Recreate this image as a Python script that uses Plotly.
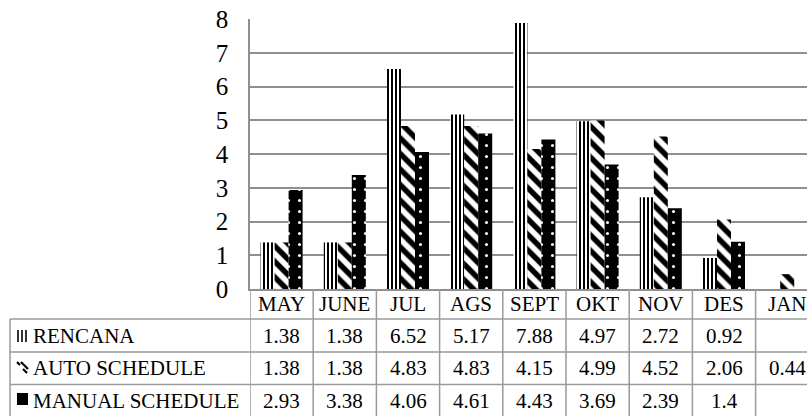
import plotly.graph_objects as go

# ---------------- data ----------------
months = ["MAY", "JUNE", "JUL", "AGS", "SEPT", "OKT", "NOV", "DES", "JAN"]
rencana = [1.38, 1.38, 6.52, 5.17, 7.88, 4.97, 2.72, 0.92, None]
auto_schedule = [1.38, 1.38, 4.83, 4.83, 4.15, 4.99, 4.52, 2.06, 0.44]
manual_schedule = [2.93, 3.38, 4.06, 4.61, 4.43, 3.69, 2.39, 1.4, None]
series_names = ["RENCANA", "AUTO SCHEDULE", "MANUAL SCHEDULE"]
y_ticks = [0, 1, 2, 3, 4, 5, 6, 7, 8]

# ---------------- layout geometry (pixels) ----------------
W, H = 807, 416
ML, MR, MT, MB = 250, 0, 19, 127
PW, PH = W - ML - MR, H - MT - MB
CAT_W = 63.2
FONT = "Liberation Serif, Times New Roman, DejaVu Serif, serif"
GRID = "#8f8f8f"
TLINE = "#9a9a9a"


def yp(py):
    return (H - MB - py) / PH


def xp(px):
    return (px - ML) / PW


fig = go.Figure()

patterns = [
    dict(shape="|", fgcolor="black", bgcolor="white", size=4, solidity=0.5, fillmode="replace"),
    dict(shape="\\", fgcolor="black", bgcolor="white", size=11, solidity=0.5, fillmode="replace"),
    dict(shape=".", fgcolor="white", bgcolor="black", size=11, solidity=0.06, fillmode="replace"),
]
for name, vals, pat in zip(series_names, [rencana, auto_schedule, manual_schedule], patterns):
    fig.add_trace(go.Bar(
        x=months, y=vals, name=name,
        marker=dict(color="black", pattern=pat, line=dict(width=0)),
    ))

shapes = []
# table vertical lines at category boundaries
for i in range(len(months) + 1):
    shapes.append(dict(type="line", xref="x", yref="paper", x0=i - 0.5, x1=i - 0.5,
                       y0=0, y1=yp(420), line=dict(color=TLINE, width=1.5)))
# label column left border
shapes.append(dict(type="line", xref="paper", yref="paper", x0=xp(10), x1=xp(10),
                   y0=yp(319), y1=yp(420), line=dict(color=TLINE, width=1.5)))
# horizontal row lines
for py in [319, 352, 384.5]:
    shapes.append(dict(type="line", xref="paper", yref="paper", x0=xp(10), x1=1,
                       y0=yp(py), y1=yp(py), line=dict(color=TLINE, width=1.5)))

# legend keys
for k in range(3):
    xk = 18 + 4 * k
    shapes.append(dict(type="line", xref="paper", yref="paper", x0=xp(xk), x1=xp(xk),
                       y0=yp(330), y1=yp(342), line=dict(color="black", width=1.6)))
for (ax0, ay0, ax1, ay1) in [(17, 362, 20, 365), (21, 362, 28, 369), (23, 369, 27, 373)]:
    shapes.append(dict(type="line", xref="paper", yref="paper", x0=xp(ax0), x1=xp(ax1),
                       y0=yp(ay0), y1=yp(ay1), line=dict(color="black", width=2.2)))
shapes.append(dict(type="rect", xref="paper", yref="paper", x0=xp(17), x1=xp(28),
                   y0=yp(393), y1=yp(405), fillcolor="black", line=dict(width=0)))

annotations = []
row_centers = [335.5, 368, 400.5]
for m in months:
    annotations.append(dict(x=m, y=yp(304), xref="x", yref="paper", text=m, showarrow=False,
                            font=dict(family=FONT, size=21, color="black"),
                            xanchor="center", yanchor="middle"))
for name, vals, yc in zip(series_names, [rencana, auto_schedule, manual_schedule], row_centers):
    annotations.append(dict(x=xp(31), y=yp(yc), xref="paper", yref="paper", text=name,
                            showarrow=False, font=dict(family=FONT, size=21, color="black"),
                            xanchor="left", yanchor="middle"))
    for m, v in zip(months, vals):
        if v is None:
            continue
        annotations.append(dict(x=m, y=yp(yc), xref="x", yref="paper", text=str(v),
                                showarrow=False, font=dict(family=FONT, size=21, color="black"),
                                xanchor="center", yanchor="middle"))

fig.update_layout(
    width=W, height=H,
    margin=dict(l=ML, r=MR, t=MT, b=MB, pad=0),
    paper_bgcolor="white", plot_bgcolor="white",
    barmode="group", bargap=0.335, bargroupgap=0,
    showlegend=False,
    shapes=shapes, annotations=annotations,
    font=dict(family=FONT, color="black"),
)
fig.update_xaxes(
    type="category", range=[-0.5, -0.5 + PW / CAT_W],
    showticklabels=False, ticks="", showgrid=False, zeroline=False,
    showline=True, linecolor=GRID, linewidth=1.5,
)
fig.update_yaxes(
    range=[0, 8], tickvals=y_ticks, ticktext=[str(t) for t in y_ticks],
    tickfont=dict(family=FONT, size=25, color="black"),
    showgrid=True, gridcolor=GRID, gridwidth=1.5, zeroline=False,
    showline=True, linecolor=GRID, linewidth=1.5, ticks="",
    ticklabelstandoff=15,
)

fig.write_html("out.html")
